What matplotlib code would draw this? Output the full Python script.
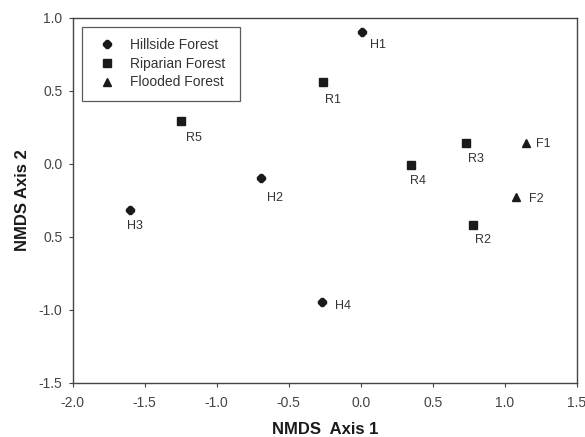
import matplotlib
matplotlib.use("Agg")
import matplotlib.pyplot as plt

plt.rcParams["font.family"] = ["Liberation Sans", "DejaVu Sans"]

# NMDS site scores
hill_names = ["H1", "H2", "H3", "H4"]
hill_x = [0.01, -0.69, -1.60, -0.27]
hill_y = [0.90, -0.10, -0.32, -0.95]

rip_names = ["R1", "R2", "R3", "R4", "R5"]
rip_x = [-0.26, 0.78, 0.73, 0.35, -1.25]
rip_y = [0.56, -0.42, 0.14, -0.01, 0.29]

flood_names = ["F1", "F2"]
flood_x = [1.15, 1.08]
flood_y = [0.14, -0.23]

x_ticks = [-2.0, -1.5, -1.0, -0.5, 0.0, 0.5, 1.0, 1.5]
y_ticks = [1.0, 0.5, 0.0, -0.5, -1.0, -1.5]
y_tick_labels = ["1.0", "0.5", "0.0", "0.5", "-1.0", "-1.5"]

# label offsets (points) per site
offsets = {
    "H1": (5.7, -9), "H2": (4, -14.5), "H3": (-2.5, -11), "H4": (9.5, -2.5),
    "R1": (1, -13), "R2": (1.5, -10.5), "R3": (1.3, -11), "R4": (-1, -11.5),
    "R5": (4, -12), "F1": (6.7, -0.5), "F2": (9.5, -1.3),
}

ink = "#1a1a1a"
fig = plt.figure(figsize=(5.85, 4.37), dpi=100)
ax = fig.add_axes([0.1243, 0.1243, 0.8615, 0.8352])

ax.plot(hill_x, hill_y, ls="none", marker="8", ms=5.5, color=ink, label="Hillside Forest")
ax.plot(rip_x, rip_y, ls="none", marker="s", ms=5.5, color=ink, label="Riparian Forest")
ax.plot(flood_x, flood_y, ls="none", marker="^", ms=6, color=ink, label="Flooded Forest")

for names, xs, ys in ((hill_names, hill_x, hill_y), (rip_names, rip_x, rip_y),
                      (flood_names, flood_x, flood_y)):
    for n, x, y in zip(names, xs, ys):
        ax.annotate(n, (x, y), xytext=offsets[n], textcoords="offset points",
                    fontsize=9, color="#333333", va="center", ha="left")

ax.set_xlim(-2.0, 1.5)
ax.set_ylim(-1.5, 1.0)
ax.set_xticks(x_ticks)
ax.set_xticklabels([f"{v:.1f}" for v in x_ticks])
ax.set_yticks(y_ticks)
ax.set_yticklabels(y_tick_labels)
ax.tick_params(direction="out", length=3, width=0.8, labelsize=10, colors="#444444",
               labelcolor="#444444")
ax.tick_params(axis="x", pad=6.5)
ax.tick_params(axis="y", pad=4.5)
for sp in ax.spines.values():
    sp.set_color("#444444")
    sp.set_linewidth(1.0)

ax.set_xlabel("NMDS  Axis 1", fontsize=12, fontweight="bold", color=ink, labelpad=9)
ax.set_ylabel("NMDS Axis 2", fontsize=12, fontweight="bold", color=ink, labelpad=6)

leg = ax.legend(loc="upper left", bbox_to_anchor=(0.0179, 0.5, 0.314, 0.474),
                mode="expand", fontsize=10, frameon=True, fancybox=False,
                handletextpad=0.65, borderpad=0.8, labelspacing=0.33,
                handlelength=2.0, borderaxespad=0)
leg.get_frame().set_edgecolor("#333333")
leg.get_frame().set_linewidth(0.9)
for t in leg.get_texts():
    t.set_color("#333333")

fig.savefig("out.png", dpi=100)
